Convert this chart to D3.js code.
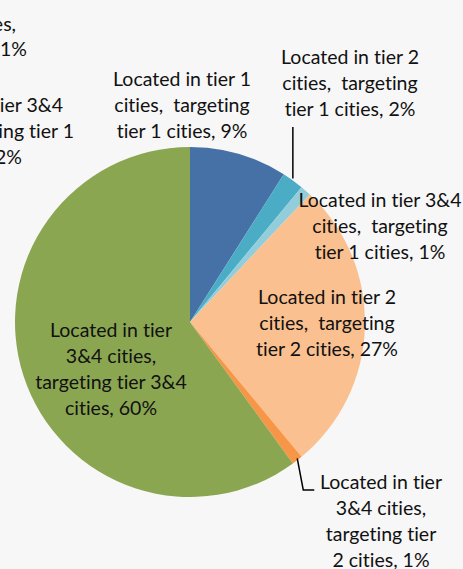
<!DOCTYPE html>
<html>
<head>
<meta charset="utf-8">
<script src="https://cdn.jsdelivr.net/npm/d3@7"></script>
<style>
  html, body { margin: 0; padding: 0; background: #f7f7f7; }
  svg { display: block; }
  text {
    font-family: Lato, "Open Sans", sans-serif; font-size: 19.5px; fill: #111;
    white-space: pre; font-variant-ligatures: none; font-feature-settings: "liga" 0;
  }
</style>
</head>
<body>
<div id="container"></div>
<script>
/* DATA */
const categories = [
  ["Located in tier 1", "cities,  targeting", "tier 1 cities"],
  ["Located in tier 2", "cities,  targeting", "tier 1 cities"],
  ["Located in tier 3&4", "cities,  targeting", "tier 1 cities"],
  ["Located in tier 2", "cities,  targeting", "tier 2 cities"],
  ["Located in tier", "3&4 cities,", "targeting tier", "2 cities"],
  ["Located in tier", "3&4 cities,", "targeting tier 3&4", "cities"]
];
const values = [9, 2, 1, 27, 1, 60];
const sliceColors = ["#4571a6", "#4bacc6", "#92cddc", "#fac08f", "#f79646", "#8ba651"];

// fragments of the neighbouring chart cut off at the left edge
const clippedLines = ["cities,", "1%", "Located in tier 3&4", "targeting tier 1", "2%"];

/* LAYOUT */
const width = 463, height = 569;
const center = { x: 190, y: 322 };
const radius = 175;
const lineGap = 26;
// label anchor (centre x, first baseline y) per slice
const labelPos = [
  { x: 182, y: 86 },
  { x: 350, y: 64 },
  { x: 380, y: 207 },
  { x: 327, y: 304 },
  { x: 381, y: 489 },
  { x: 111, y: 337 }
];
const clippedPos = [
  { x: 16, y: 31 }, { x: 27, y: 56 },
  { x: 63, y: 112 }, { x: 74, y: 138 }, { x: 22, y: 164 }
];

const svg = d3.select("#container")
  .append("svg")
  .attr("width", width)
  .attr("height", height)

svg.append("rect")
  .attr("width", width)
  .attr("height", height)
  .attr("fill", "#f7f7f7")

const pie = d3.pie().sort(null).value(d => d)
const arcs = pie(values)

const arc = d3.arc().innerRadius(0).outerRadius(radius)
const rim = d3.arc().innerRadius(radius).outerRadius(radius)

const g = svg.append("g")
  .attr("transform", `translate(${center.x},${center.y})`)

g.selectAll("path")
  .data(arcs)
  .join("path")
  .attr("d", arc)
  .attr("fill", (d, i) => sliceColors[i])

// leader lines for the two thin slices with labels outside
const c1 = rim.centroid(arcs[1])
const c4 = rim.centroid(arcs[4])
const leaders = [
  [[c1[0], 127 - center.y], [c1[0], c1[1] - 2]],
  [[c4[0], c4[1] - 2], [c4[0] + 6, 490 - center.y], [c4[0] + 17, 490 - center.y]]
]
g.selectAll("path.leader")
  .data(leaders)
  .join("path")
  .attr("class", "leader")
  .attr("d", d3.line())
  .attr("fill", "none")
  .attr("stroke", "#000")
  .attr("stroke-width", 1.5)

// slice labels
const labels = svg.selectAll("text.label")
  .data(arcs)
  .join("text")
  .attr("class", "label")
  .attr("text-anchor", "middle")

labels.each(function(d, i) {
  const lines = categories[i].slice()
  lines[lines.length - 1] += ", " + values[i] + "%"
  d3.select(this).selectAll("tspan")
    .data(lines)
    .join("tspan")
    .attr("x", labelPos[i].x)
    .attr("y", (l, j) => labelPos[i].y + j * lineGap)
    .text(l => l)
})

svg.selectAll("text.clipped")
  .data(clippedLines)
  .join("text")
  .attr("class", "clipped")
  .attr("text-anchor", "end")
  .attr("x", (d, i) => clippedPos[i].x)
  .attr("y", (d, i) => clippedPos[i].y)
  .text(d => d)
</script>
</body>
</html>
